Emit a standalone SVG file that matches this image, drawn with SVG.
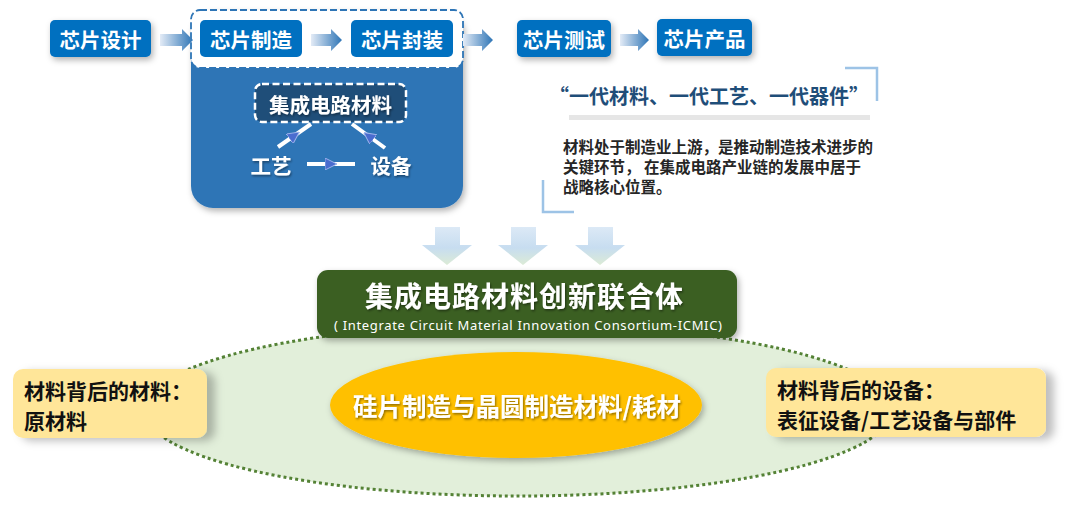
<svg xmlns="http://www.w3.org/2000/svg" width="1080" height="506" viewBox="0 0 1080 506">
<style>
.cjk{font-family:"Noto Sans CJK SC","Noto Sans",sans-serif;font-weight:bold}
.step{fill:#0070C0}
.stept{font-size:20.5px;fill:#fff;text-anchor:middle;dominant-baseline:central}
.side{fill:#FFE699}
.sidet{font-size:21px;fill:#111}
.brk{fill:none;stroke:#9DC3E6;stroke-width:2.5}
.body{font-size:15.5px;fill:#262626}
.wl{fill:none;stroke:#fff;stroke-width:4}
</style>
<defs>
<linearGradient id="hArrow" x1="0" y1="0" x2="1" y2="0">
<stop offset="0" stop-color="#E3EBF6"/>
<stop offset="1" stop-color="#2E75B6"/>
</linearGradient>
<linearGradient id="vArrow" x1="0" y1="0" x2="0" y2="1">
<stop offset="0" stop-color="#DCE9F6"/>
<stop offset="0.55" stop-color="#C7DDF0"/>
<stop offset="1" stop-color="#DCEBD6"/>
</linearGradient>
<filter id="sh" x="-20%" y="-20%" width="150%" height="160%">
<feDropShadow dx="2" dy="3" stdDeviation="3" flood-color="#000" flood-opacity="0.3"/>
</filter>
<filter id="shSide" x="-10%" y="-20%" width="140%" height="150%">
<feDropShadow dx="8" dy="3" stdDeviation="4" flood-color="#000" flood-opacity="0.25"/>
</filter>
<filter id="tsh" x="-10%" y="-20%" width="120%" height="150%">
<feDropShadow dx="1" dy="1.5" stdDeviation="0.8" flood-color="#000" flood-opacity="0.45"/>
</filter>
<marker id="tri" viewBox="0 0 10 10" refX="5" refY="5" markerWidth="12" markerHeight="12" markerUnits="userSpaceOnUse" orient="auto">
<path d="M0,0 L10,5 L0,10 z" fill="#4A6CCF" stroke="#9FB4EA" stroke-width="0.8"/>
</marker>
</defs>

<g id="consortium-field">
<ellipse cx="518" cy="410" rx="374" ry="86" fill="#E2EFDA" stroke="#548235" stroke-width="3" stroke-dasharray="3 3"/>
</g>

<g id="fab-panel">
<rect x="191" y="10" width="272" height="198" rx="22" fill="#2E75B6" filter="url(#sh)"/>
<rect x="191" y="10" width="272" height="58" rx="9" fill="#fff" stroke="#2E75B6" stroke-width="1.8" stroke-dasharray="7 3"/>
</g>

<g id="connectors">
<path d="M160,34 H182 V29 L193,40 L182,51 V46 H160 Z" fill="url(#hArrow)"/>
<path d="M311,34 H331 V29 L342,40 L331,51 V46 H311 Z" fill="url(#hArrow)"/>
<path d="M463,34 H482 V29 L493,40 L482,51 V46 H463 Z" fill="url(#hArrow)"/>
<path d="M620,34 H638 V29 L649,40 L638,51 V46 H620 Z" fill="url(#hArrow)"/>
<polyline class="wl" points="278,147 294.5,135.5 311,124" marker-mid="url(#tri)"/>
<polyline class="wl" points="385,148 368.5,136 352,124" marker-mid="url(#tri)"/>
<polyline class="wl" points="307,164 331,164 355,164" marker-mid="url(#tri)"/>
<path d="M435,227 H460 V245 H472 L447,265 L422,245 H435 Z" fill="url(#vArrow)"/>
<path d="M511,227 H536 V245 H548 L523,265 L498,245 H511 Z" fill="url(#vArrow)"/>
<path d="M588,227 H613 V245 H625 L600,265 L575,245 H588 Z" fill="url(#vArrow)"/>
</g>

<g id="step-design">
<rect class="step" x="50" y="20" width="101" height="37" rx="5" filter="url(#sh)"/>
<text class="cjk stept" x="100.5" y="38.5">芯片设计</text>
</g>
<g id="step-fab">
<rect class="step" x="200" y="20" width="102" height="37" rx="5"/>
<text class="cjk stept" x="251" y="38.5">芯片制造</text>
</g>
<g id="step-package">
<rect class="step" x="351" y="20" width="102" height="37" rx="5"/>
<text class="cjk stept" x="402" y="38.5">芯片封装</text>
</g>
<g id="step-test">
<rect class="step" x="517" y="20" width="94" height="37" rx="5" filter="url(#sh)"/>
<text class="cjk stept" x="564" y="38.5">芯片测试</text>
</g>
<g id="step-product">
<rect class="step" x="657" y="19" width="95" height="37" rx="5" filter="url(#sh)"/>
<text class="cjk stept" x="704.5" y="37.5">芯片产品</text>
</g>

<g id="ic-materials">
<rect x="255" y="84" width="151" height="38" rx="7" fill="#1F4E79" stroke="#fff" stroke-width="2.5" stroke-dasharray="7 3.5"/>
<text class="cjk" x="330.5" y="103.5" font-size="20.5" fill="#fff" text-anchor="middle" dominant-baseline="central" filter="url(#tsh)">集成电路材料</text>
</g>
<g id="process">
<text class="cjk" x="271" y="165" font-size="20.5" fill="#fff" text-anchor="middle" dominant-baseline="central" filter="url(#tsh)">工艺</text>
</g>
<g id="equipment">
<text class="cjk" x="391" y="165" font-size="20.5" fill="#fff" text-anchor="middle" dominant-baseline="central" filter="url(#tsh)">设备</text>
</g>

<g id="quote">
<path class="brk" d="M845,68 H877 V101"/>
<text class="cjk" x="709" y="95" font-size="20" fill="#1F4E79" text-anchor="middle" dominant-baseline="central">“一代材料、一代工艺、一代器件”</text>
<rect x="569" y="115" width="301" height="5" fill="#E6E6E6"/>
<text class="cjk body" x="563" y="145.5" dominant-baseline="central">材料处于制造业上游，是推动制造技术进步的</text>
<text class="cjk body" x="563" y="166" dominant-baseline="central">关键环节， 在集成电路产业链的发展中居于</text>
<text class="cjk body" x="563" y="186" dominant-baseline="central">战略核心位置。</text>
<path class="brk" d="M543,180 V212 H574"/>
</g>

<g id="icmic">
<rect x="317" y="270" width="420" height="68" rx="11" fill="#3A5F24" filter="url(#sh)"/>
<text class="cjk" x="524" y="295" font-size="28" fill="#fff" text-anchor="middle" dominant-baseline="central" filter="url(#tsh)" textLength="318" lengthAdjust="spacing">集成电路材料创新联合体</text>
<text x="528" y="325" font-family="'Noto Sans','Open Sans',sans-serif" font-size="13" fill="#fff" text-anchor="middle" dominant-baseline="central" textLength="388" lengthAdjust="spacing">( Integrate Circuit Material Innovation Consortium-ICMIC)</text>
</g>

<g id="wafer-materials">
<ellipse cx="516" cy="405" rx="186" ry="53" fill="#FFC000" filter="url(#sh)"/>
<text class="cjk" x="517" y="405" font-size="24.5" fill="#fff" text-anchor="middle" dominant-baseline="central" filter="url(#tsh)">硅片制造与晶圆制造材料/耗材</text>
</g>

<g id="raw-materials">
<rect class="side" x="13" y="369" width="194" height="69" rx="10" filter="url(#shSide)"/>
<text class="cjk sidet" x="24" y="390" dominant-baseline="central">材料背后的材料：</text>
<text class="cjk sidet" x="24" y="420" dominant-baseline="central">原材料</text>
</g>

<g id="equipment-behind">
<rect class="side" x="766" y="368" width="280" height="69" rx="10" filter="url(#shSide)"/>
<text class="cjk sidet" x="777" y="389" dominant-baseline="central">材料背后的设备：</text>
<text class="cjk sidet" x="777" y="419" dominant-baseline="central">表征设备/工艺设备与部件</text>
</g>
</svg>
